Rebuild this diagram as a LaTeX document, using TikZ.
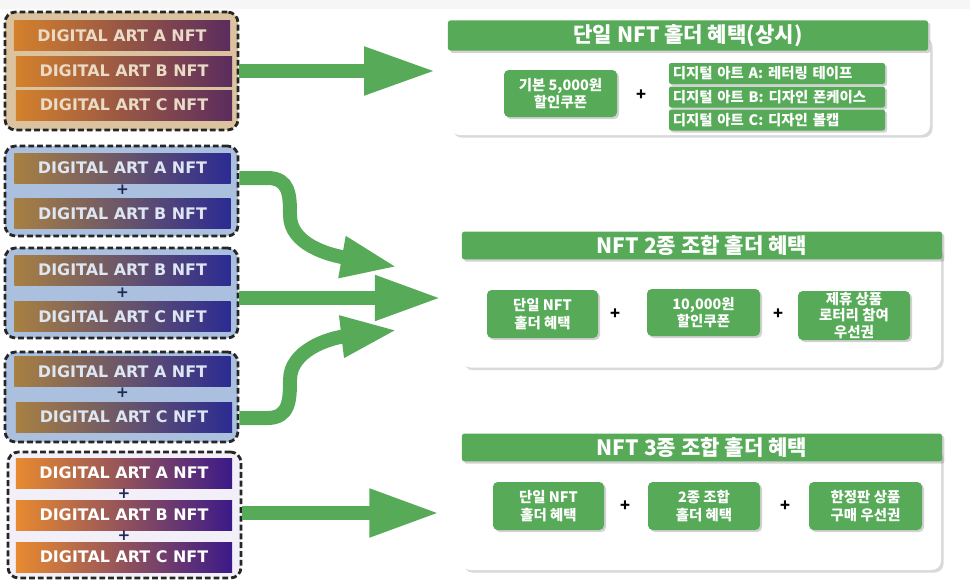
\documentclass[tikz,border=0pt]{standalone}
\usepackage{fontspec}
\setmainfont{Noto Sans CJK KR}
\newfontfamily\barfont{DejaVu Sans}
\usetikzlibrary{arrows.meta,shadows,calc}

\begin{document}
\begin{tikzpicture}[
    x=0.03cm, y=-0.03cm,
    group/.style={draw=black!85, line width=2.4pt, dash pattern=on 5pt off 2.5pt,
        rounded corners=9pt, minimum width=6.99cm, inner sep=0pt},
    bar/.style={minimum width=6.48cm, minimum height=0.9cm, inner sep=0pt,
        font=\barfont\bfseries\fontsize{13.6}{15}\selectfont},
    joint/.style={font=\barfont\bfseries\fontsize{13}{14}\selectfont, text=navy, inner sep=0pt},
    header/.style={fill=nftgreen, text=white, minimum width=14.4cm, minimum height=0.75cm,
        rounded corners=2pt, font=\bfseries\fontsize{18}{20}\selectfont,
        drop shadow={opacity=0.35, shadow xshift=0.07cm, shadow yshift=-0.07cm}},
    panel/.style={fill=white, rounded corners=8pt, minimum width=14.4cm,
        drop shadow={opacity=0.3, shadow xshift=0.08cm, shadow yshift=-0.08cm}},
    perk/.style={fill=nftgreen, text=white, rounded corners=4pt, align=center,
        font=\bfseries\fontsize{12.3}{15}\selectfont,
        drop shadow={opacity=0.35, shadow xshift=0.06cm, shadow yshift=-0.06cm}},
    plus/.style={font=\bfseries\fontsize{14}{14}\selectfont, inner sep=0pt},
    bigarrow/.style={draw=nftgreen, line width=0.42cm},
]

% Colors
\definecolor{nftgreen}{HTML}{57AB58}
\definecolor{navy}{HTML}{1E2A55}
\definecolor{tan}{HTML}{DCC3A0}
\definecolor{sky}{HTML}{AAC0DE}
\definecolor{lilac}{HTML}{F3EFF8}
\definecolor{orangeA}{HTML}{D4812C}
\definecolor{plumA}{HTML}{5B2C5E}
\definecolor{ochre}{HTML}{A88042}
\definecolor{indigo}{HTML}{2B2B92}
\definecolor{orangeB}{HTML}{E88A30}
\definecolor{violet}{HTML}{3B1A88}

% Canvas
\useasboundingbox (0,0) rectangle (970,581);
\fill[gray!7] (0,0) rectangle (970,9);

% Left groups of NFTs
\node[group, fill=tan,   minimum height=3.54cm] (g1) at (121.5,71) {};
\node[group, fill=sky,   minimum height=2.7cm]  (g2) at (121.5,191) {};
\node[group, fill=sky,   minimum height=2.7cm]  (g3) at (121.5,293) {};
\node[group, fill=sky,   minimum height=2.7cm]  (g4) at (121.5,397) {};
\node[group, fill=lilac, minimum height=3.78cm] (g5) at (124.5,515) {};

% Single holder bars
\foreach \n/\x/\y/\l in {a/122/35.5/A, b/124/71/B, c/124/105/C} {
    \node[bar, left color=orangeA, right color=plumA, text=tan!60!white]
        (g1\n) at (\x,\y) {DIGITAL ART \l\ NFT};
}

% Two-piece bars
\foreach \g/\n/\x/\y/\l in {2/a/122.5/168/A, 2/b/122.5/213.5/B,
                            3/b/122.5/270/B, 3/c/122.5/316.5/C,
                            4/a/122.5/371.5/A, 4/c/124/417/C} {
    \node[bar, left color=ochre, right color=indigo, text=sky!40!white]
        (g\g\n) at (\x,\y) {DIGITAL ART \l\ NFT};
}
\node[joint] (j2) at (122.5,190) {+};
\node[joint] (j3) at (122.5,293) {+};
\node[joint] (j4) at (122.5,393) {+};

% Three-piece bars
\foreach \n/\y/\l in {a/473/A, b/515/B, c/557/C} {
    \node[bar, left color=orangeB, right color=violet, text=white]
        (g5\n) at (124,\y) {DIGITAL ART \l\ NFT};
}
\node[joint] (j5a) at (124,494) {+};
\node[joint] (j5b) at (124,536) {+};

% Benefit panels
\node[panel, minimum height=3cm]    (p1) at (690,85) {};
\node[header] (h1) at (688,35.5) {단일 NFT 홀더 혜택(상시)};
\node[panel, minimum height=3.69cm] (p2) at (701,306) {};
\node[header] (h2) at (702,245.5) {NFT 2종 조합 홀더 혜택};
\node[panel, minimum height=3.69cm] (p3) at (701,508.5) {};
\node[header] (h3) at (702,447.5) {NFT 3종 조합 홀더 혜택};

% Panel 1 contents
\node[perk, minimum width=3.39cm, minimum height=1.41cm] (b11) at (560.5,93.5) {기본 5,000원\\할인쿠폰};
\node[plus] (q11) at (641,95) {+};
\foreach \n/\y/\t in {a/73.5/{디지털 아트 A: 레터링 테이프},
                      b/97/{디지털 아트 B: 디자인 폰케이스},
                      c/120/{디지털 아트 C: 디자인 볼캡}} {
    \node[perk, rounded corners=2pt, minimum width=6.48cm, minimum height=0.63cm,
        text width=6.25cm, align=left, inner sep=0pt, font=\bfseries\fontsize{12.3}{13}\selectfont]
        (b12\n) at (777,\y) {\t};
}

% Panel 2 contents
\node[perk, minimum width=3.33cm, minimum height=1.44cm] (b21) at (542.5,314) {단일 NFT\\홀더 혜택};
\node[plus] (q21) at (615,314) {+};
\node[perk, minimum width=3.39cm, minimum height=1.41cm] (b22) at (703.5,312.5) {10,000원\\할인쿠폰};
\node[plus] (q22) at (778,314) {+};
\node[perk, minimum width=3.36cm, minimum height=1.47cm, inner sep=1pt,
    font=\bfseries\fontsize{12.3}{14}\selectfont] (b23) at (854,315.5) {제휴 상품\\로터리 참여\\우선권};

% Panel 3 contents
\node[perk, minimum width=3.33cm, minimum height=1.44cm] (b31) at (548.5,506) {단일 NFT\\홀더 혜택};
\node[plus] (q31) at (625,506) {+};
\node[perk, minimum width=3.36cm, minimum height=1.44cm] (b32) at (704,506) {2종 조합\\홀더 혜택};
\node[plus] (q32) at (785,506) {+};
\node[perk, minimum width=3.39cm, minimum height=1.44cm] (b33) at (865.5,506) {한정판 상품\\구매 우선권};

% Arrows
\draw[bigarrow, -{Triangle[length=2.15cm, width=1.35cm]}, shorten >=0.42cm]
    (g1.east) -- (g1.east -| p1.west);
\draw[bigarrow, -{Triangle[length=2cm, width=1.26cm]}, shorten >=0.58cm]
    ($(g3.east)+(0,5)$) -- ($(g3.east -| p2.west)+(0,5)$);
\draw[bigarrow, -{Triangle[length=2.1cm, width=1.35cm]}, shorten >=0.64cm]
    ($(g5.east)+(0,-2)$) -- ($(g5.east -| p3.west)+(0,-2)$);

% curved ones
\coordinate (t2) at ($(p2.west)+(-63,-39)$);
\coordinate (t4) at ($(p2.west)+(-63,24)$);
\draw[bigarrow, -{Triangle[length=1.7cm, width=1.15cm]}]
    ($(g2.east)+(0,-13)$) -- ++(28,0) .. controls +(22,0) and (290,195) .. (290,215)
    .. controls (290,245) and (330,255) .. (t2);
\draw[bigarrow, -{Triangle[length=1.7cm, width=1.15cm]}]
    ($(g4.east)+(0,21)$) -- ++(28,0) .. controls +(22,0) and (290,400) .. (290,380)
    .. controls (290,350) and (330,338) .. (t4);

\end{tikzpicture}
\end{document}
